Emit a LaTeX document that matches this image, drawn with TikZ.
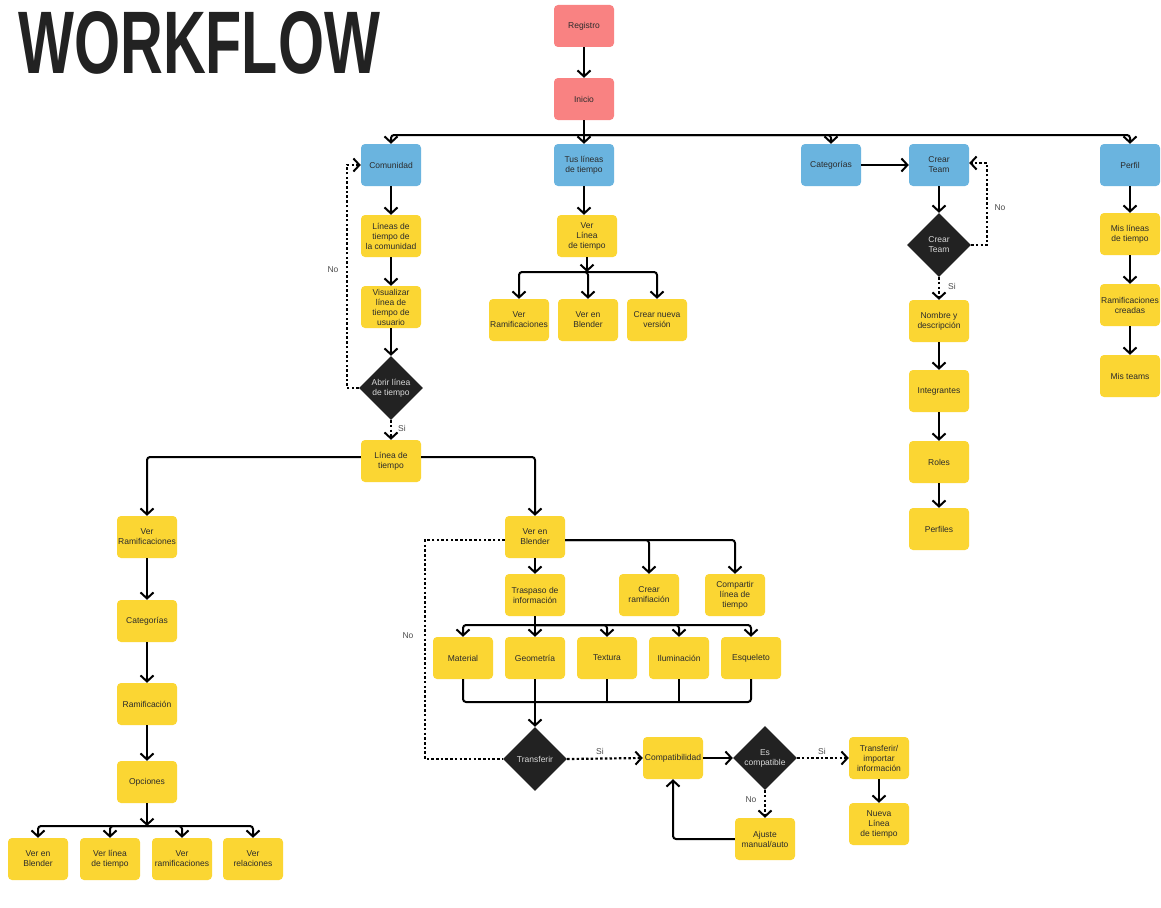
\documentclass[tikz,border=0pt]{standalone}
\usepackage{fontspec}
\setmainfont{Liberation Sans}
\usetikzlibrary{shapes.geometric,arrows.meta,calc}
\definecolor{pinkc}{HTML}{F98282}
\definecolor{bluec}{HTML}{6AB4DF}
\definecolor{yelc}{HTML}{FBD633}
\definecolor{darkc}{HTML}{222222}
\definecolor{txtc}{HTML}{2B2B2B}
\begin{document}
\begin{tikzpicture}[x=1pt,y=-1pt,
  box/.style={rectangle,rounded corners=4pt,minimum width=60pt,minimum height=42pt,inner sep=1pt,align=center,text=txtc,font=\fontsize{8.5}{10}\selectfont},
  pinkbox/.style={box,fill=pinkc},
  bluebox/.style={box,fill=bluec},
  yelbox/.style={box,fill=yelc},
  dia/.style={diamond,aspect=1,minimum width=64pt,minimum height=64pt,inner sep=0pt,fill=darkc,text=white!85!black,align=center,font=\fontsize{8.5}{10}\selectfont},
  conn/.style={line width=2pt,draw=black,rounded corners=3pt},
  arr/.style={conn,-{Straight Barb[length=6pt,width=13pt,line width=2pt]}},
  dotc/.style={line width=2.2pt,draw=black,dash pattern=on 2.5pt off 2.2pt},
  dotarr/.style={dotc,-{Straight Barb[length=6pt,width=13pt,line width=2pt,line cap=butt]}},
  lbl/.style={text=black!70,font=\fontsize{8.5}{10}\selectfont,inner sep=0pt}
]
\useasboundingbox (0,0) rectangle (1161,907);
\fill[white] (0,0) rectangle (1161,907);

% title
\node[anchor=north west,inner sep=0pt,text=darkc] (title) at (18,11) {\resizebox{362pt}{62pt}{\bfseries WORKFLOW}};

% top
\node[pinkbox] (reg) at (584,26) {Registro};
\node[pinkbox] (ini) at (584,99) {Inicio};
\node[bluebox] (com) at (391,165) {Comunidad};
\node[bluebox] (tus) at (584,165) {Tus líneas\\de tiempo};
\node[bluebox] (cat) at (831,165) {Categorías};
\node[bluebox] (ct) at (939,165) {Crear\\Team};
\node[bluebox] (per) at (1130,165) {Perfil};
\coordinate (bus1) at (584,135);

\draw[arr] (reg.south) -- (ini.north);
\draw[arr] (ini.south) -- (tus.north);
\draw[arr] (bus1) -| (com.north);
\draw[arr] (bus1) -| (cat.north);
\draw[arr] (bus1) -| (per.north);

% comunidad column
\node[yelbox] (lc) at (391,236) {Líneas de\\tiempo de\\la comunidad};
\node[yelbox] (vis) at (391,307) {Visualizar\\línea de\\tiempo de\\usuario};
\node[dia] (d1) at (391,388) {Abrir línea\\de tiempo};
\node[yelbox] (lt) at (391,461) {Línea de\\tiempo};
\draw[arr] (com.south) -- (lc.north);
\draw[arr] (lc.south) -- (vis.north);
\draw[arr] (vis.south) -- (d1.north);
\draw[dotarr] (d1.south) -- (lt.north);
\node[lbl] (si1) at (402,428) {Si};
\draw[dotarr] (d1.west) -- ++(-12,0) |- (com.west);
\node[lbl] (no1) at (333,270) {No};

% tus lineas
\node[yelbox] (vlt) at (587,236) {Ver\\Línea\\de tiempo};
\node[yelbox] (vr1) at (519,320) {Ver\\Ramificaciones};
\node[yelbox] (vb1) at (588,320) {Ver en\\Blender};
\node[yelbox] (cn1) at (657,320) {Crear nueva\\versión};
\coordinate (bus2) at (587,272);
\draw[arr] (tus.south) -- (tus.south |- vlt.north);
\draw[arr] (vlt.south) -- (bus2);
\draw[arr] (bus2) -| (vr1.north);
\draw[arr] (bus2) -| (vb1.north);
\draw[arr] (bus2) -| (cn1.north);

% crear team
\draw[arr] (cat.east) -- (ct.west);
\node[dia] (d2) at (939,245) {Crear\\Team};
\node[yelbox] (nom) at (939,321) {Nombre y\\descripción};
\node[yelbox] (integ) at (939,391) {Integrantes};
\node[yelbox] (roles) at (939,462) {Roles};
\node[yelbox] (perf) at (939,529) {Perfiles};
\draw[arr] (ct.south) -- (d2.north);
\draw[dotarr] (d2.east) -- ++(16,0) |- ([yshift=2pt]ct.east);
\node[lbl] (no2) at (1000,208) {No};
\draw[dotarr] (d2.south) -- (nom.north);
\node[lbl] (si2) at (952,286) {Si};
\draw[arr] (nom.south) -- (integ.north);
\draw[arr] (integ.south) -- (roles.north);
\draw[arr] (roles.south) -- (perf.north);

% perfil
\node[yelbox] (mlt) at (1130,234) {Mis líneas\\de tiempo};
\node[yelbox] (rc) at (1130,305) {Ramificaciones\\creadas};
\node[yelbox] (mt) at (1130,376) {Mis teams};
\draw[arr] (per.south) -- (mlt.north);
\draw[arr] (mlt.south) -- (rc.north);
\draw[arr] (rc.south) -- (mt.north);

% linea de tiempo branches
\node[yelbox] (vr2) at (147,537) {Ver\\Ramificaciones};
\node[yelbox] (cat2) at (147,621) {Categorías};
\node[yelbox] (ram) at (147,704) {Ramificación};
\node[yelbox] (op) at (147,782) {Opciones};
\node[yelbox] (o1) at (38,859) {Ver en\\Blender};
\node[yelbox] (o2) at (110,859) {Ver línea\\de tiempo};
\node[yelbox] (o3) at (182,859) {Ver\\ramificaciones};
\node[yelbox] (o4) at (253,859) {Ver\\relaciones};
\draw[arr] ([yshift=4pt]lt.west) -| (vr2.north);
\draw[arr] (vr2.south) -- (cat2.north);
\draw[arr] (cat2.south) -- (ram.north);
\draw[arr] (ram.south) -- (op.north);
\coordinate (bus3) at (147,826);
\draw[arr] (op.south) -- (bus3);
\draw[arr] (bus3) -| (o1.north);
\draw[arr] (bus3) -| (o2.north);
\draw[arr] (bus3) -| (o3.north);
\draw[arr] (bus3) -| (o4.north);

% ver en blender
\node[yelbox] (vbl) at (535,537) {Ver en\\Blender};
\node[yelbox] (tr) at (535,595) {Traspaso de\\información};
\node[yelbox] (cr) at (649,595) {Crear\\ramifiación};
\node[yelbox] (cp) at (735,595) {Compartir\\línea de\\tiempo};
\draw[arr] ([yshift=4pt]lt.east) -| (vbl.north);
\draw[arr] (vbl.south) -- (tr.north);
\draw[arr] ([yshift=-3pt]vbl.east) -| (cr.north);
\draw[arr] ([yshift=-3pt]vbl.east) -| (cp.north);

\node[yelbox] (mat) at (463,658) {Material};
\node[yelbox] (geo) at (535,658) {Geometría};
\node[yelbox] (tex) at (607,658) {Textura};
\node[yelbox] (ilu) at (679,658) {Iluminación};
\node[yelbox] (esq) at (751,658) {Esqueleto};
\coordinate (bus4) at (535,625);
\draw[conn] (tr.south) -- (bus4);
\draw[arr] (bus4) -| (mat.north);
\draw[arr] (bus4) -- (geo.north);
\draw[arr] (bus4) -| (tex.north);
\draw[arr] (bus4) -| (ilu.north);
\draw[arr] (bus4) -| (esq.north);

\node[dia] (d3) at (535,759) {Transferir};
\coordinate (bus5) at (535,702);
\draw[conn] (mat.south) |- (bus5);
\draw[conn] (esq.south) |- (bus5);
\draw[conn] (tex.south) -- (tex.south |- bus5);
\draw[conn] (ilu.south) -- (ilu.south |- bus5);
\draw[arr] (geo.south) -- (d3.north);

\draw[dotc] ([yshift=-3pt]vbl.west) -- ++(-80,0) |- (d3.west);
\node[lbl] (no3) at (408,636) {No};

\node[yelbox] (comp) at (673,758) {Compatibilidad};
\node[dia] (d4) at (765,758) {Es\\compatible};
\node[yelbox] (tri) at (879,758) {Transferir/\\importar\\información};
\node[yelbox] (nl) at (879,824) {Nueva\\Línea\\de tiempo};
\node[yelbox] (aj) at (765,839) {Ajuste\\manual/auto};
\draw[dotarr] (d3.east) -- (comp.west);
\node[lbl] (si3) at (600,751) {Si};
\draw[arr] (comp.east) -- (d4.west);
\draw[dotarr] (d4.east) -- (tri.west);
\node[lbl] (si4) at (822,751) {Si};
\draw[arr] (tri.south) -- (nl.north);
\draw[dotarr] (d4.south) -- (aj.north);
\node[lbl] (no4) at (751,800) {No};
\draw[arr] (aj.west) -| (comp.south);
\end{tikzpicture}
\end{document}
